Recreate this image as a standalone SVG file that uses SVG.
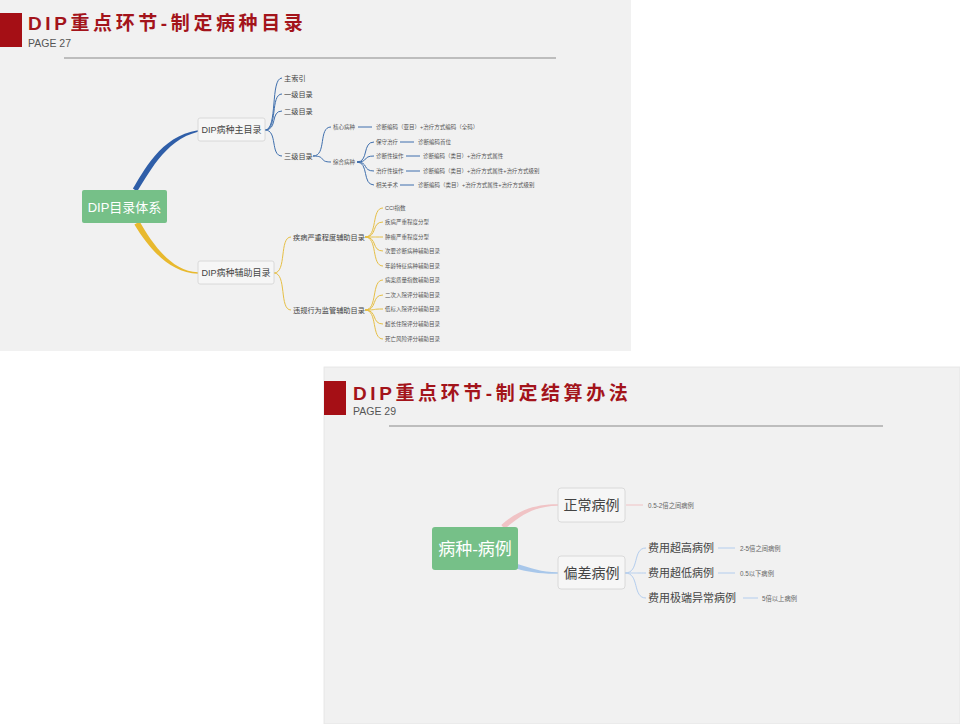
<svg xmlns="http://www.w3.org/2000/svg" width="960" height="724" viewBox="0 0 960 724">
<style>
text{font-family:"Liberation Sans","Noto Sans CJK SC",sans-serif;dominant-baseline:central}
.title{font-size:19px;font-weight:bold;fill:#a3141b;letter-spacing:3.6px}
.page{font-size:10.5px;fill:#555}
.rule{stroke:#bdbdbd;stroke-width:2}
.red{fill:#a50f15}
.slide{fill:#f1f1f1}
.ctr{fill:#76c088}
.ctrt{fill:#fff;text-anchor:middle}
.box{fill:#f6f6f6;stroke:#d3d3d3;stroke-width:0.8}
.l2{font-size:9px;fill:#444;text-anchor:middle}
.l3{font-size:7.2px;fill:#444}
.s{font-size:5.5px;fill:#555}
.bl{stroke:#3f6fad;stroke-width:1;fill:none}
.yl{stroke:#e6bf45;stroke-width:1;fill:none}
.pk{stroke:#f0c3c5;stroke-width:1;fill:none}
.lb{stroke:#b3cdee;stroke-width:1;fill:none}
.b2{font-size:14px;fill:#444;text-anchor:middle}
.b3{font-size:11px;fill:#444}
.b4{font-size:6.3px;fill:#666}
</style>
<rect width="960" height="724" fill="#fff"/>
<!-- top slide -->
<g id="slide27">
<rect class="slide" x="0" y="0" width="631" height="351"/>
<rect class="red" x="0" y="13" width="22" height="34"/>
<text class="title" x="28" y="23">DIP重点环节-制定病种目录</text>
<text class="page" x="28" y="43">PAGE 27</text>
<line class="rule" x1="64" y1="58" x2="556" y2="58"/>
</g>
<!-- bottom slide -->
<g id="slide29">
<rect class="slide" x="324" y="367" width="636" height="357" stroke="#e4e4e4" stroke-width="0.8"/>
<rect class="red" x="324" y="381" width="22" height="34"/>
<text class="title" x="353" y="393">DIP重点环节-制定结算办法</text>
<text class="page" x="353" y="411">PAGE 29</text>
<line class="rule" x1="389" y1="426" x2="883" y2="426"/>
</g>
<g id="connectors">
<!-- top map main branches -->
<path fill="#2f5ea8" d="M132.9,188.6 C143,173 160,136 198,130.3 L198,131.7 C164,140 147,177 137.1,191.4 Z"/>
<path fill="#e8b92e" d="M139.6,221.5 C152,243 171,271.3 198,272.3 L198,273.7 C169,273 148,247 134.4,224.5 Z"/>
<!-- blue sub -->
<path class="bl" d="M265,130 C278,130 270,78 282,78 M265,130 C278,130 270,94 282,94 M265,130 C278,130 270,111 282,111 M265,130 C278,130 270,156 282,156"/>
<path class="bl" d="M313,156 C327,156 318,127 331,127 M313,156 C327,156 318,162 331,162"/>
<path class="bl" d="M358,127 H372"/>
<path class="bl" d="M357,162 C369,162 362,142 374,142 M357,162 C369,162 362,156 374,156 M357,162 C369,162 362,171 374,171 M357,162 C369,162 362,185 374,185"/>
<path class="bl" d="M400,142 H414 M406,156 H420 M406,171 H420 M400,185 H414"/>
<!-- yellow sub -->
<path class="yl" d="M274,273 C287,273 279,237 291,237 M274,273 C287,273 279,310 291,310"/>
<path class="yl" d="M365,237 C378,237 371,208 383,208 M365,237 C378,237 371,222 383,222 M365,237 C378,237 371,237 383,237 M365,237 C378,237 371,251 383,251 M365,237 C378,237 371,266 383,266"/>
<path class="yl" d="M365,310 C378,310 371,280 383,280 M365,310 C378,310 371,295 383,295 M365,310 C378,310 371,309 383,309 M365,310 C378,310 371,324 383,324 M365,310 C378,310 371,339 383,339"/>
<!-- bottom map -->
<path fill="#f0c3c5" d="M501.3,525.1 C518,510 535,504.3 558,504.3 L558,505.7 C536,506 522,514 504.7,528.9 Z"/>
<path fill="#a8c7ea" d="M516,563.5 C531,568 541,572.3 558,572.3 L558,573.7 C540,574 528,572 516,568.5 Z"/>
<path class="pk" d="M626,505 H643"/>
<path class="lb" d="M625,573 C640,573 632,548 646,548 M625,573 C640,573 632,573 646,573 M625,573 C640,573 632,598 646,598"/>
<path class="lb" d="M718,548 H735 M718,573 H735 M743,598 H758"/>
</g>
<!-- top map nodes -->
<g id="n-dip-system"><rect class="ctr" x="82" y="190" width="85" height="33" rx="2"/><text class="ctrt" x="124.5" y="207" font-size="13">DIP目录体系</text></g>
<g id="n-main"><rect class="box" x="198" y="118" width="67" height="23" rx="2"/><text class="l2" x="231.5" y="130">DIP病种主目录</text></g>
<g id="n-aux"><rect class="box" x="198" y="261" width="76" height="23" rx="2"/><text class="l2" x="236" y="273">DIP病种辅助目录</text></g>
<g id="n-main-items">
<text class="l3" x="284" y="78">主索引</text>
<text class="l3" x="284" y="94">一级目录</text>
<text class="l3" x="284" y="111">二级目录</text>
<text class="l3" x="284" y="156">三级目录</text>
</g>
<g id="n-level3">
<text class="s" x="333" y="127">核心病种</text>
<text class="s" x="376" y="127">诊断编码（亚目）+治疗方式编码（全码）</text>
<text class="s" x="333" y="162">综合病种</text>
<text class="s" x="376" y="142">保守治疗</text>
<text class="s" x="418" y="142">诊断编码首位</text>
<text class="s" x="376" y="156">诊断性操作</text>
<text class="s" x="423" y="156">诊断编码（类目）+治疗方式属性</text>
<text class="s" x="376" y="171">治疗性操作</text>
<text class="s" x="423" y="171">诊断编码（类目）+治疗方式属性+治疗方式级别</text>
<text class="s" x="376" y="185">相关手术</text>
<text class="s" x="418" y="185">诊断编码（类目）+治疗方式属性+治疗方式级别</text>
</g>
<g id="n-aux-items">
<text class="l3" x="293" y="237">疾病严重程度辅助目录</text>
<text class="l3" x="293" y="310">违规行为监管辅助目录</text>
<text class="s" x="385" y="208">CCI指数</text>
<text class="s" x="385" y="222">疾病严重程度分型</text>
<text class="s" x="385" y="237">肿瘤严重程度分型</text>
<text class="s" x="385" y="251">次要诊断病种辅助目录</text>
<text class="s" x="385" y="266">年龄特征病种辅助目录</text>
<text class="s" x="385" y="280">病案质量指数辅助目录</text>
<text class="s" x="385" y="295">二次入院评分辅助目录</text>
<text class="s" x="385" y="309">低标入院评分辅助目录</text>
<text class="s" x="385" y="324">超长住院评分辅助目录</text>
<text class="s" x="385" y="339">死亡风险评分辅助目录</text>
</g>
<!-- bottom map nodes -->
<g id="n-case"><rect class="ctr" x="432" y="527" width="86" height="43" rx="3"/><text class="ctrt" x="475" y="549" font-size="17">病种-病例</text></g>
<g id="n-normal"><rect class="box" x="558" y="488" width="67" height="34" rx="3"/><text class="b2" x="591.5" y="505">正常病例</text></g>
<g id="n-deviate"><rect class="box" x="558" y="556" width="67" height="33" rx="3"/><text class="b2" x="591.5" y="573">偏差病例</text></g>
<g id="n-bottom-items">
<text class="b4" x="648" y="505">0.5-2倍之间病例</text>
<text class="b3" x="648" y="548">费用超高病例</text>
<text class="b3" x="648" y="573">费用超低病例</text>
<text class="b3" x="648" y="598">费用极端异常病例</text>
<text class="b4" x="740" y="548">2-5倍之间病例</text>
<text class="b4" x="740" y="573">0.5以下病例</text>
<text class="b4" x="762" y="598">5倍以上病例</text>
</g>
</svg>
